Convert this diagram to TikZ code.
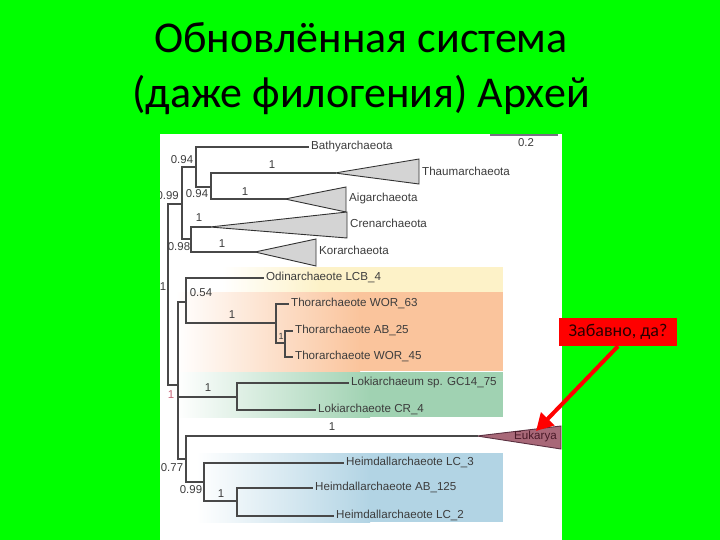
\documentclass[tikz,border=0pt]{standalone}
\usepackage{fontspec}
\setmainfont{Liberation Sans}
\newfontfamily\titlefont{Carlito}
\usetikzlibrary{arrows.meta}
\definecolor{bg}{RGB}{0,255,0}
\definecolor{treeline}{RGB}{72,72,72}
\definecolor{labtext}{RGB}{60,60,60}
\definecolor{trifill}{RGB}{212,212,212}
\definecolor{tridraw}{RGB}{50,50,50}
\definecolor{yelF}{RGB}{253,242,200}
\definecolor{oraF}{RGB}{250,196,156}
\definecolor{greF}{RGB}{160,210,178}
\definecolor{bluF}{RGB}{178,212,228}
\definecolor{eukF}{RGB}{168,104,120}
\definecolor{eukD}{RGB}{90,48,64}
\definecolor{eukT}{RGB}{74,26,40}
\definecolor{pinkT}{RGB}{200,100,120}
\definecolor{funred}{RGB}{255,0,0}
\definecolor{funtext}{RGB}{40,0,0}
\definecolor{scalebar}{RGB}{120,112,130}
\begin{document}
\begin{tikzpicture}[x=1pt,y=-1pt,
  br/.style={draw=treeline,line width=1.3pt,line cap=rect},
  lab/.style={anchor=west,font=\fontsize{11.6}{12}\selectfont,text=labtext,inner xsep=3pt,inner ysep=0pt,text height=8pt,text depth=2.5pt},
  bv/.style={font=\fontsize{11.4}{12}\selectfont,text=labtext,inner sep=0pt},
  tri/.style={fill=trifill,draw=tridraw,line width=0.9pt,line join=miter},
  ttl/.style={font=\titlefont\fontsize{44}{48}\selectfont,anchor=base,inner sep=0pt}]
\useasboundingbox (0,0) rectangle (720,540);
\fill[bg] (0,0) rectangle (720,540);
% title
\node[ttl] (t1) at (361,53) {Обновлённая система};
\node[ttl] (t2) at (361,108) {(даже филогения) Архей};
% panel
\fill[white] (160,134) rectangle (562,540);
\begin{scope}
\clip (160,134) rectangle (562,540);
% coloured clade boxes
\shade[left color=white,right color=yelF] (222,267) rectangle (320,292);
\fill[yelF] (319,267) rectangle (503,292);
\shade[left color=white,right color=oraF] (176,292) rectangle (360,371);
\fill[oraF] (359,292) rectangle (503,371);
\shade[left color=white,right color=greF] (176,372) rectangle (370,417);
\fill[greF] (369,372) rectangle (503,417);
\shade[left color=white,right color=bluF] (196,453) rectangle (370,522);
\fill[bluF] (369,453) rectangle (503,522);
% scale bar
\coordinate (sb1) at (490,135);
\coordinate (sb2) at (558,135);
\draw[draw=scalebar,line width=2pt] (sb1) -- (sb2);
\node[bv] (sbl) at (526,143) {0.2};
% internal nodes
\coordinate (R) at (168,290);
\coordinate (tack) at (182,204);
\coordinate (B) at (196,167);
\coordinate (TA) at (211,187);
\coordinate (K) at (191,239);
\coordinate (asg) at (178,385);
\coordinate (OT) at (186,302);
\coordinate (Thor) at (276,323);
\coordinate (TA2) at (285,343);
\coordinate (Loki) at (237,397);
\coordinate (HE) at (186,459);
\coordinate (Heim) at (204,482);
\coordinate (H2) at (237,501);
% collapsed clades
\coordinate (thaumA) at (335,173);
\coordinate (aigA) at (285,199);
\coordinate (crenA) at (210,227);
\coordinate (korA) at (255,252);
\coordinate (eukA) at (477,436);
\filldraw[tri] (thaumA) -- (419,159) -- (419,184) -- cycle;
\filldraw[tri] (aigA) -- (346,187) -- (346,212) -- cycle;
\filldraw[tri] (crenA) -- (347,212) -- (347,238) -- cycle;
\filldraw[tri] (korA) -- (316,239) -- (316,266) -- cycle;
\filldraw[fill=eukF,draw=eukD,line width=0.9pt] (eukA) -- (561,426) -- (561,449) -- cycle;
% leaf labels
\node[lab] (bathy) at (308,147) {Bathyarchaeota};
\node[lab] (thaum) at (419,173) {Thaumarchaeota};
\node[lab] (aig) at (346,199) {Aigarchaeota};
\node[lab] (cren) at (347,225) {Crenarchaeota};
\node[lab] (kor) at (316,252) {Korarchaeota};
\node[lab] (odin) at (263,278) {Odinarchaeote LCB\_4};
\node[lab] (w63) at (288,304) {Thorarchaeote WOR\_63};
\node[lab] (ab25) at (292,331) {Thorarchaeote AB\_25};
\node[lab] (w45) at (292,357) {Thorarchaeote WOR\_45};
\node[lab] (gc14) at (348,383) {Lokiarchaeum sp. GC14\_75};
\node[lab] (cr4) at (315,410) {Lokiarchaeote CR\_4};
\node[lab,text=eukT] (euk) at (511,437) {Eukarya};
\node[lab] (lc3) at (343,463) {Heimdallarchaeote LC\_3};
\node[lab] (ab125) at (312,488) {Heimdallarchaeote AB\_125};
\node[lab] (lc2) at (333,516) {Heimdallarchaeote LC\_2};
% branches
\draw[br] (R) |- (tack);
\draw[br] (R) |- (asg);
\draw[br] (tack) |- (B);
\draw[br] (tack) |- (K);
\draw[br] (B) |- (bathy.west);
\draw[br] (B) |- (TA);
\draw[br] (TA) |- (thaumA);
\draw[br] (TA) |- (aigA);
\draw[br] (K) |- (crenA);
\draw[br] (K) |- (korA);
\draw[br] (asg) |- (OT);
\draw[br] (asg) |- (Loki);
\draw[br] (asg) |- (HE);
\draw[br] (OT) |- (odin.west);
\draw[br] (OT) |- (Thor);
\draw[br] (Thor) |- (w63.west);
\draw[br] (Thor) |- (TA2);
\draw[br] (TA2) |- (ab25.west);
\draw[br] (TA2) |- (w45.west);
\draw[br] (Loki) |- (gc14.west);
\draw[br] (Loki) |- (cr4.west);
\draw[br] (HE) |- (eukA);
\draw[br] (HE) |- (Heim);
\draw[br] (Heim) |- (lc3.west);
\draw[br] (Heim) |- (H2);
\draw[br] (H2) |- (ab125.west);
\draw[br] (H2) |- (lc2.west);
% support values
\node[bv] (s1) at (182,160) {0.94};
\node[bv] (s2) at (197,194) {0.94};
\node[bv,anchor=east] (s3) at (179,196) {0.99};
\node[bv] (s4) at (163,287) {1};
\node[bv] (s5) at (179,247) {0.98};
\node[bv] (s6) at (272,165) {1};
\node[bv] (s7) at (245,192) {1};
\node[bv] (s8) at (199,218) {1};
\node[bv] (s9) at (222,244) {1};
\node[bv] (s10) at (201,293) {0.54};
\node[bv] (s11) at (232,315) {1};
\node[bv,font=\fontsize{9}{10}\selectfont] (s12) at (281,336) {1};
\node[bv,text=pinkT] (s13) at (171,395) {1};
\node[bv] (s14) at (208,388) {1};
\node[bv] (s15) at (332,427) {1};
\node[bv] (s16) at (172,468) {0.77};
\node[bv] (s17) at (191,490) {0.99};
\node[bv] (s18) at (221,494) {1};
\end{scope}
% annotation
\node[fill=funred,minimum width=118pt,minimum height=28pt,inner sep=0pt,text=funtext,font=\titlefont\fontsize{18}{20}\selectfont] (fun) at (618,332) {Забавно, да?};
\coordinate (tip) at (536,431);
\draw[draw=funred,line width=4pt,-{Triangle[length=17pt,width=18pt]}] (fun.south) -- (tip);
\end{tikzpicture}
\end{document}
